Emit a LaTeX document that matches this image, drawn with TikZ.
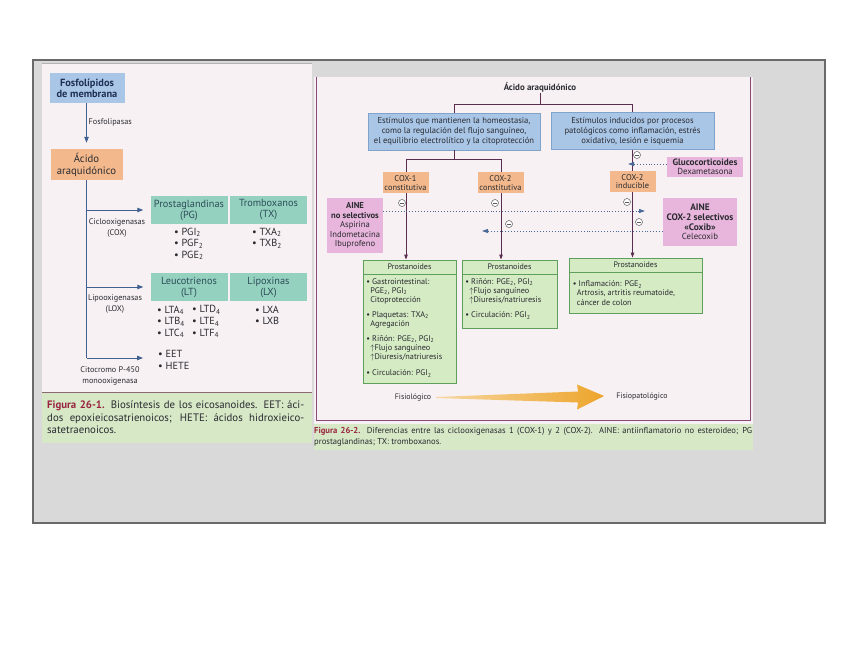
\documentclass[tikz,border=0pt]{standalone}
\usepackage{fontspec}
\setmainfont{PT Sans}
\usetikzlibrary{arrows.meta}
\definecolor{bggray}{HTML}{D9D9D9}
\definecolor{framegray}{HTML}{6A6A6A}
\definecolor{pagepink}{HTML}{F8F1F3}
\definecolor{capgreen}{HTML}{D6E8C6}
\definecolor{capline}{HTML}{8A6A70}
\definecolor{boxblue}{HTML}{A9C6E6}
\definecolor{boxblued}{HTML}{7FA3CB}
\definecolor{boxorange}{HTML}{F3B98C}
\definecolor{boxteal}{HTML}{95D1BF}
\definecolor{boxpink}{HTML}{E8B6DC}
\definecolor{prosfill}{HTML}{D4EBC4}
\definecolor{prosdraw}{HTML}{5E9F5B}
\definecolor{linepurple}{HTML}{5A2D50}
\definecolor{arrowblue}{HTML}{3F6090}
\definecolor{dotblue}{HTML}{4A6A98}
\definecolor{textdark}{HTML}{2A2A30}
\definecolor{navy}{HTML}{1F2F55}
\definecolor{tealtext}{HTML}{2D4D5A}
\definecolor{capred}{HTML}{9A2440}
\definecolor{framepurple}{HTML}{8A4A78}
\definecolor{orangearrow}{HTML}{EDA52B}
\begin{document}
\begin{tikzpicture}[x=1pt,y=-1pt,
  lbox/.style={inner sep=0pt, align=center, text=textdark, font=\fontsize{10.7}{12}\selectfont},
  tealbox/.style={lbox, fill=boxteal, minimum width=77pt, minimum height=28pt, text=tealtext, font=\fontsize{10.3}{11}\selectfont},
  lline/.style={draw=arrowblue, line width=0.9pt},
  larrow/.style={lline, -{Triangle[length=6pt,width=4.5pt]}},
  llabel/.style={inner sep=0pt, align=center, text=textdark, font=\fontsize{8.2}{11}\selectfont},
  litems/.style={inner sep=0pt, align=left, text=textdark, font=\fontsize{10.3}{11.6}\selectfont},
  rbox/.style={inner sep=0pt, align=center, text=textdark, font=\fontsize{8.6}{10}\selectfont},
  bluebox/.style={rbox, fill=boxblue, draw=boxblued, line width=0.4pt, minimum height=37pt},
  coxbox/.style={rbox, fill=boxorange, minimum width=46pt, minimum height=21pt, font=\fontsize{8.4}{8.8}\selectfont},
  pinkbox/.style={rbox, fill=boxpink, font=\fontsize{8.6}{9.4}\selectfont},
  pros/.style={draw=prosdraw, fill=prosfill, line width=0.8pt, inner sep=0pt},
  proshead/.style={inner sep=0pt, text=textdark, font=\fontsize{8}{9}\selectfont},
  prositems/.style={inner sep=0pt, align=left, text=textdark, font=\fontsize{8.2}{9.2}\selectfont},
  rline/.style={draw=linepurple, line width=0.9pt},
  rarrow/.style={rline, -{Triangle[length=5pt,width=3.5pt]}},
  dotarrow/.style={draw=dotblue, line width=0.9pt, dotted, -{Triangle[length=6pt,width=4pt]}},
  inh/.style={circle, draw=gray!70!black, fill=white, line width=0.5pt, minimum size=7pt, inner sep=0pt,
    path picture={\draw[line width=0.6pt, gray!70!black] ([xshift=1.8pt]path picture bounding box.west) -- ([xshift=-1.8pt]path picture bounding box.east);}}
]
\useasboundingbox (0,0) rectangle (848,655);
\fill[white] (0,0) rectangle (848,655);
\filldraw[fill=bggray, draw=framegray, line width=1.2pt] (33,60) rectangle (825,523);
% ---------------- left panel ----------------
\fill[pagepink] (42,63) rectangle (312,443);
\draw[gray!60, line width=0.6pt] (42,63) -- (312,63);
\fill[capgreen] (42,392) rectangle (312,443);
\draw[capline, line width=0.8pt] (42,392) -- (312,392);

\node[lbox, fill=boxblue, minimum width=75pt, minimum height=30pt, text=navy, font=\bfseries\fontsize{10.4}{11.2}\selectfont] (fosfo) at (87,88) {Fosfolípidos\\de membrana};
\node[lbox, fill=boxorange, minimum width=72pt, minimum height=31pt] (acido1) at (86.5,164.5) {Ácido\\araquidónico};
\node[tealbox] (pg) at (189,210) {Prostaglandinas\\(PG)};
\node[tealbox] (tx) at (268.5,210) {Tromboxanos\\(TX)};
\node[tealbox] (lt) at (189,287) {Leucotrienos\\(LT)};
\node[tealbox] (lx) at (268.5,287) {Lipoxinas\\(LX)};

\draw[larrow] (acido1.north |- fosfo.south) -- ([yshift=6pt]acido1.north);
\node[llabel, anchor=west] (fosfolip) at (88.5,122) {Fosfolipasas};
\coordinate (cyt) at (86.5,358);
\coordinate (cytend) at (143,358);
\draw[lline] (acido1.south) -- (cyt);
\draw[larrow] (acido1.south |- pg.west) -- ([xshift=-7pt]pg.west);
\draw[larrow] (acido1.south |- lt.west) -- ([xshift=-7pt]lt.west);
\draw[larrow] (cyt) -- (cytend);
\node[llabel] (coxlab) at (117,228) {Ciclooxigenasas\\(COX)};
\node[llabel] (loxlab) at (115,304) {Lipooxigenasas\\(LOX)};
\node[llabel] (cytlab) at (110,375.5) {Citocromo P-450\\monooxigenasa};

\node[litems, anchor=north west] (pgit) at (174,227.5) {• PGI\textsubscript{2}\\• PGF\textsubscript{2}\\• PGE\textsubscript{2}};
\node[litems, anchor=north west] (txit) at (252,227.5) {• TXA\textsubscript{2}\\• TXB\textsubscript{2}};
\node[litems, anchor=north west] (ltit1) at (157,305.5) {• LTA\textsubscript{4}\\• LTB\textsubscript{4}\\• LTC\textsubscript{4}};
\node[litems, anchor=north west] (ltit2) at (192,305.5) {• LTD\textsubscript{4}\\• LTE\textsubscript{4}\\• LTF\textsubscript{4}};
\node[litems, anchor=north west] (lxit) at (255,305.5) {• LXA\\• LXB};
\node[litems, anchor=north west] (eetit) at (158,350.5) {• EET\\• HETE};

\node[inner sep=0pt, anchor=north west, align=left, text=textdark, font=\fontsize{10.8}{12.6}\selectfont] (cap1) at (47,400.5)
 {\makebox[257pt][s]{\textcolor{capred}{\bfseries Figura 26-1.} Biosíntesis de los eicosanoides. EET: áci-}\\
  \makebox[257pt][s]{dos epoxieicosatrienoicos; HETE: ácidos hidroxieico-}\\
  satetraenoicos.};

% ---------------- right panel ----------------
\fill[pagepink] (314,77) rectangle (753,450);
\fill[capgreen] (314,424) rectangle (753,450);
\draw[framepurple, line width=1pt] (316,77) -- (316,420) -- (750,420) -- (750,77);

\node[rbox, font=\bfseries\fontsize{8.9}{9}\selectfont] (acido2) at (540,88) {Ácido araquidónico};
\node[bluebox, minimum width=172pt] (blueL) at (454,131.5) {Estímulos que mantienen la homeostasia,\\como la regulación del flujo sanguíneo,\\el equilibrio electrolítico y la citoprotección};
\node[bluebox, minimum width=163pt] (blueR) at (632.5,131) {Estímulos inducidos por procesos\\patológicos como inflamación, estrés\\oxidativo, lesión e isquemia};

\coordinate (top) at (540,104);
\draw[rline] (acido2.south) -- (top);
\draw[rline] (blueL.north) -- (blueL.north |- top) -- (blueR.north |- top) -- (blueR.north);

\coordinate (splitL) at (406,159);
\coordinate (splitR) at (501,159);
\draw[rline] (blueL.south) -- (blueL.south |- splitL);
\draw[rline] (splitL) -- (splitR);

\node[pros, minimum width=93pt, minimum height=123pt] (p1) at (409.5,321.5) {};
\node[pros, minimum width=95pt, minimum height=68pt] (p2) at (509.5,294) {};
\node[pros, minimum width=133pt, minimum height=55pt] (p3) at (635.5,285.5) {};

\draw[rarrow] (splitL) -- (splitL |- p1.north);
\draw[rarrow] (splitR) -- (splitR |- p2.north);
\draw[rarrow] (blueR.south) -- (blueR.south |- p3.north);

\node[coxbox] (cox1) at (405.5,183) {COX-1\\constitutiva};
\node[coxbox] (cox2) at (500.5,183) {COX-2\\constitutiva};
\node[coxbox] (cox2i) at (632.5,181.5) {COX-2\\inducible};

\node[pinkbox, minimum width=56pt, minimum height=55pt] (ainens) at (355,225.5) {\textbf{AINE}\\\textbf{no selectivos}\\Aspirina\\Indometacina\\Ibuprofeno};
\node[pinkbox, minimum width=76pt, minimum height=20pt, font=\fontsize{8.8}{9}\selectfont] (gluco) at (705,167) {{\bfseries\fontsize{9.2}{9}\selectfont Glucocorticoides}\\Dexametasona};
\node[pinkbox, minimum width=74pt, minimum height=48pt, font=\fontsize{8.8}{9.6}\selectfont] (ainesel) at (700,222) {{\bfseries\fontsize{9.4}{9.6}\selectfont AINE}\\{\bfseries\fontsize{9.4}{9.6}\selectfont COX-2 selectivos}\\{\bfseries\fontsize{9.4}{9.6}\selectfont «Coxib»}\\Celecoxib};

\coordinate (d1end) at (645,211);
\coordinate (d2end) at (482,231);
\coordinate (gend) at (628,164);
\draw[dotarrow] (ainens.east |- d1end) -- (d1end);
\draw[dotarrow] (ainesel.west |- d2end) -- (d2end);
\draw[dotarrow] (gluco.west |- gend) -- (gend);

\node[inh] (m1) at (402,203) {};
\node[inh] (m2) at (495,203) {};
\node[inh] (m3) at (627,202) {};
\node[inh] (m4) at (509,224) {};
\node[inh] (m5) at (639,222) {};
\node[inh] (m6) at (637,155) {};

% prostanoides contents
\node[proshead, anchor=north] (p1h) at ([yshift=-4pt]p1.north) {Prostanoides};
\node[proshead, anchor=north] (p2h) at ([yshift=-4pt]p2.north) {Prostanoides};
\node[proshead, anchor=north] (p3h) at ([yshift=-4pt]p3.north) {Prostanoides};
\draw[prosdraw, line width=0.8pt] ([yshift=-15pt]p1.north west) -- ([yshift=-15pt]p1.north east);
\draw[prosdraw, line width=0.8pt] ([yshift=-15pt]p2.north west) -- ([yshift=-15pt]p2.north east);
\draw[prosdraw, line width=0.8pt] ([yshift=-15pt]p3.north west) -- ([yshift=-15pt]p3.north east);

\node[prositems, anchor=north west] (p1it) at ([xshift=3.5pt,yshift=-18.5pt]p1.north west)
 {• Gastrointestinal:\\
  \hspace*{4pt}PGE\textsubscript{2}, PGI\textsubscript{2}\\
  \hspace*{4pt}Citoprotección\\[5.5pt]
  • Plaquetas: TXA\textsubscript{2}\\
  \hspace*{4pt}Agregación\\[5.5pt]
  • Riñón: PGE\textsubscript{2}, PGI\textsubscript{2}\\
  \hspace*{4pt}$\uparrow$Flujo sanguíneo\\
  \hspace*{4pt}$\uparrow$Diuresis/natriuresis\\[7pt]
  • Circulación: PGI\textsubscript{2}};
\node[prositems, anchor=north west] (p2it) at ([xshift=3.5pt,yshift=-18.5pt]p2.north west)
 {• Riñón: PGE\textsubscript{2}, PGI\textsubscript{2}\\
  \hspace*{4pt}$\uparrow$Flujo sanguíneo\\
  \hspace*{4pt}$\uparrow$Diuresis/natriuresis\\[6pt]
  • Circulación: PGI\textsubscript{2}};
\node[prositems, anchor=north west] (p3it) at ([xshift=4pt,yshift=-23pt]p3.north west)
 {• Inflamación: PGE\textsubscript{2}\\
  \hspace*{4pt}Artrosis, artritis reumatoide,\\
  \hspace*{4pt}cáncer de colon};

% orange arrow
\node[rbox, font=\fontsize{7.9}{9}\selectfont] (fisio) at (413,397) {Fisiológico};
\node[rbox, font=\fontsize{7.9}{9}\selectfont] (fisiopat) at (642,396) {Fisiopatológico};
\shade[left color=orangearrow!45, right color=orangearrow]
  ([xshift=5pt]fisio.east) -- (578,391.5) -- (577,384.5) -- ([xshift=-12pt]fisiopat.west) -- (577,409.5) -- (578,402.5) -- ([xshift=5pt,yshift=-1pt]fisio.east) -- cycle;

% right caption
\begin{scope}
\clip (314,424) rectangle (753,450);
\node[inner sep=0pt, anchor=north west, align=left, text=textdark, font=\fontsize{8.6}{11}\selectfont] (cap2) at (314,427.5)
 {\makebox[438pt][s]{\textcolor{capred}{\bfseries Figura 26-2.} Diferencias entre las ciclooxigenasas 1 (COX-1) y 2 (COX-2). AINE: antiinflamatorio no esteroideo; PG}\\
  prostaglandinas; TX: tromboxanos.};
\end{scope}
\end{tikzpicture}
\end{document}
